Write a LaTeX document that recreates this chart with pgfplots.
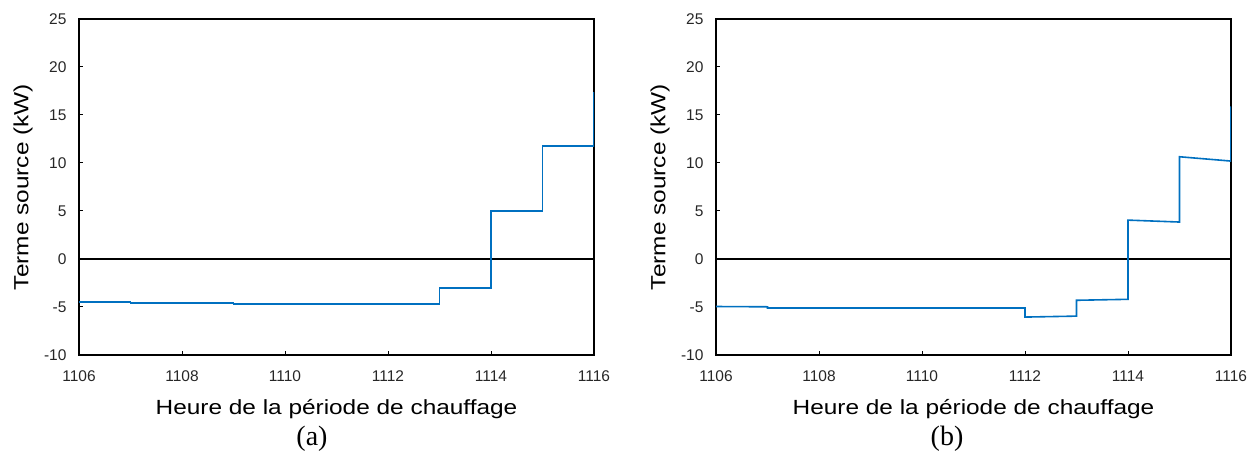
\documentclass[border=0pt]{standalone}
\usepackage{fontspec}
\setmainfont{Liberation Sans}
\newfontfamily\labfont[FakeStretch=1.19]{Liberation Sans}
\newfontfamily\serifcap{Liberation Serif}
\usepackage{pgfplots}
\pgfplotsset{compat=1.18}
\definecolor{lineblue}{RGB}{0,112,192}
\pgfplotsset{
  myaxis/.style={
    scale only axis,
    width=515pt, height=336pt,
    xmin=1106, xmax=1116, ymin=-10, ymax=25,
    xtick={1106,1108,...,1116},
    ytick={-10,-5,...,25},
    tick align=inside,
    xtick pos=bottom, ytick pos=left,
    major tick length=4pt,
    every tick/.style={black, line width=1pt},
    axis line style={black, line width=1.6pt},
    /pgf/number format/assume math mode=true,
    /pgf/number format/1000 sep={},
    tick label style={font=\fontsize{15.5}{18}\selectfont, text=black!85},
    yticklabel style={xshift=-9pt},
    xticklabel style={yshift=-12pt},
    label style={font=\labfont\fontsize{20.5}{24}\selectfont},
    xlabel style={at={(axis description cs:0.5,0)}, anchor=center, yshift=-54pt},
    ylabel style={at={(axis description cs:0,0.5)}, anchor=center, yshift=56pt},
    xlabel={Heure de la période de chauffage},
    ylabel={Terme source (kW)},
  }
}
\begin{document}
\begin{tikzpicture}[x=1pt,y=1pt]
\path[use as bounding box] (0,0) rectangle (1256,457);
\begin{axis}[myaxis, at={(79pt,102pt)}, anchor=south west]
\addplot[black, line width=1.3pt] coordinates {(1106,0) (1116,0)};
\addplot[lineblue, line width=1.6pt] coordinates {
(1106,-4.5) (1107,-4.5) (1107,-4.57) (1109,-4.57) (1109,-4.68) (1113,-4.68)
(1113,-3.05) (1114,-3.05) (1114,5.0) (1115,5.0) (1115,11.8) (1116,11.8) (1116,17.4)};
\end{axis}
\begin{axis}[myaxis, at={(716pt,102pt)}, anchor=south west]
\addplot[black, line width=1.3pt] coordinates {(1106,0) (1116,0)};
\addplot[lineblue, line width=1.6pt] coordinates {
(1106,-4.95) (1107,-4.98) (1107,-5.1) (1112,-5.1) (1112,-6.05) (1113,-5.95)
(1113,-4.3) (1114,-4.2) (1114,4.05) (1115,3.85) (1115,10.65) (1116,10.2) (1116,15.9)};
\end{axis}
\node[font=\serifcap\fontsize{28}{32}\selectfont] at (312,18) {(a)};
\node[font=\serifcap\fontsize{28}{32}\selectfont] at (947,18) {(b)};
\end{tikzpicture}
\end{document}
